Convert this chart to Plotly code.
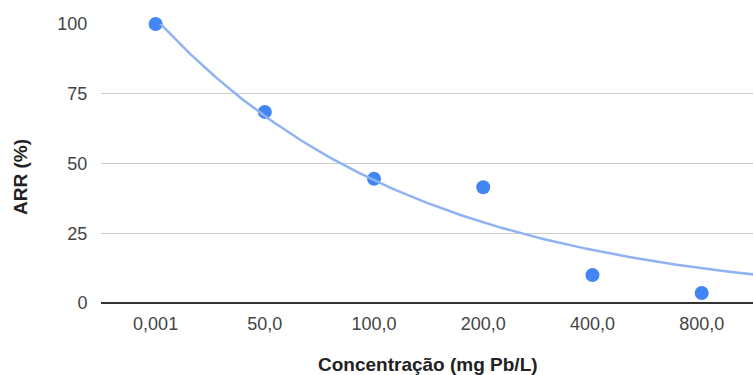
import numpy as np
import plotly.graph_objects as go

categories = ["0,001", "50,0", "100,0", "200,0", "400,0", "800,0"]
arr_values = [100, 68.5, 44.5, 41.5, 10.0, 3.6]
y_ticks = [0, 25, 50, 75, 100]

# exponential trendline fitted (nonlinear least squares) to the data
x_idx = np.arange(len(arr_values), dtype=float)
y_arr = np.array(arr_values, dtype=float)
A, b = 106.0, 0.44
for _ in range(200):
    e = np.exp(-b * x_idx)
    pred = A * e
    r = y_arr - pred
    J = np.column_stack([e, -A * x_idx * e])
    step, *_ = np.linalg.lstsq(J, r, rcond=None)
    A += step[0]
    b += step[1]
xs = np.linspace(-0.5, 5.6, 300)
trend = A * np.exp(-b * xs)

W, H = 753, 375
pl, pr, pt, pb = 101, 0, 24, 72
pw, ph = W - pl - pr, H - pt - pb

fig = go.Figure()
fig.add_trace(go.Scatter(x=xs, y=trend, mode="lines",
                         line=dict(color="#8fb3f2", width=2.5),
                         hoverinfo="skip", showlegend=False, xaxis="x2"))
fig.add_trace(go.Scatter(x=categories, y=arr_values, mode="markers",
                         marker=dict(color="#4285f4", size=14),
                         cliponaxis=False, showlegend=False))

fig.update_layout(
    width=W, height=H,
    margin=dict(l=pl, r=pr, t=pt, b=pb, autoexpand=False),
    paper_bgcolor="white", plot_bgcolor="white",
    font=dict(family="Arial, Liberation Sans, sans-serif", size=18, color="#444"),
    xaxis=dict(type="category", range=[-0.5, 5.47], showgrid=False,
               automargin=False,
               ticks="outside", ticklen=4, tickcolor="rgba(0,0,0,0)",
               tickfont=dict(size=18, color="#444"),
               showline=False, zeroline=False),
    xaxis2=dict(range=[-0.5, 5.47], overlaying="x", visible=False),
    yaxis=dict(range=[0, 100], tickvals=y_ticks, showgrid=True,
               automargin=False,
               gridcolor="#cccccc", gridwidth=1,
               zeroline=True, zerolinecolor="#333333", zerolinewidth=1.5,
               ticks="outside", ticklen=9, tickcolor="rgba(0,0,0,0)",
               tickfont=dict(size=18, color="#444")),
    annotations=[
        dict(text="<b>Concentração (mg Pb/L)</b>", xref="paper", yref="paper",
             x=(428 - pl) / pw, y=(H - 364 - pb) / ph,
             xanchor="center", yanchor="middle", showarrow=False,
             font=dict(size=19, color="#222")),
        dict(text="<b>ARR (%)</b>", xref="paper", yref="paper",
             x=(20 - pl) / pw, y=(H - 177 - pb) / ph, textangle=-90,
             xanchor="center", yanchor="middle", showarrow=False,
             font=dict(size=19, color="#222")),
    ],
)
fig.write_html("out.html", config={"displayModeBar": False},
               post_script="document.body.style.margin='0';document.body.style.overflow='hidden';")
